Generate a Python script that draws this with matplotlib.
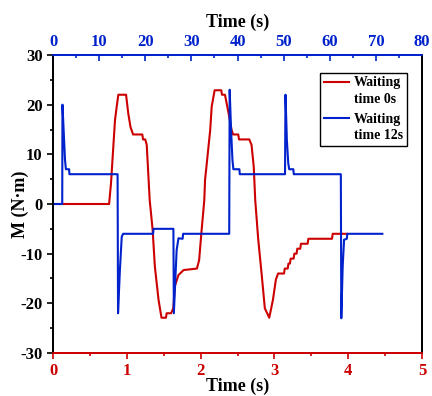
import matplotlib
matplotlib.use("Agg")
import matplotlib.pyplot as plt
from matplotlib.ticker import MultipleLocator
from matplotlib.legend_handler import HandlerLine2D

plt.rcParams['font.family'] = ['Liberation Serif', 'DejaVu Serif']
plt.rcParams['font.weight'] = 'bold'
plt.rcParams['axes.unicode_minus'] = False

RED = '#CC0000'
BLUE = '#0022CC'

# Waiting time 0s (bottom axis, seconds)
red_t = [0, 0.76, 0.786, 0.817, 0.84, 0.863, 0.885, 0.99, 1.02, 1.05, 1.085, 1.21, 1.22, 1.25, 1.27,
         1.31, 1.35, 1.38, 1.43, 1.46, 1.47, 1.53, 1.54, 1.60, 1.63, 1.65, 1.70, 1.77, 1.95, 1.98,
         2.01, 2.05, 2.06, 2.13, 2.15, 2.19, 2.28, 2.29, 2.33, 2.38, 2.42, 2.44, 2.51, 2.52, 2.66,
         2.69, 2.72, 2.74, 2.78, 2.83, 2.87, 2.93, 2.98, 3.02, 3.05, 3.13, 3.14, 3.18, 3.19, 3.21,
         3.22, 3.26, 3.27, 3.30, 3.31, 3.35, 3.36, 3.45, 3.46, 3.78, 3.79, 3.98]
red_m = [0, 0, 4.2, 11.5, 16.9, 19.6, 22, 22, 18.2, 15.5, 14, 14, 13, 13, 11.9,
         0.8, -5.2, -12.6, -19.3, -22, -22.9, -22.9, -22, -22, -21, -16.6, -14.3, -13.3, -13, -11.3,
         -5.9, 0.8, 4.8, 14.9, 19.6, 22.9, 22.9, 22, 22, 18.2, 14.9, 14, 14, 13, 13,
         11.9, 7.5, 0.8, -7, -14.6, -21, -22.9, -19.3, -15.2, -14, -14, -13, -13, -12, -12,
         -11, -11, -10, -10, -9, -9, -8, -8, -7, -7, -6, -6]

# Waiting time 12s (top axis, seconds)
blue_t = [0, 2.0, 2.05, 2.2, 2.4, 2.6, 2.8, 3.5, 3.55, 14.0, 14.1, 14.5, 14.9, 15.2, 21.7, 21.8,
          26.1, 26.2, 26.8, 27.2, 28.1, 28.2, 38.2, 38.3, 38.6, 38.9, 39.1, 40.4, 40.5, 50.3,
          50.4, 50.7, 51.0, 51.2, 52.1, 52.2, 62.4, 62.5, 62.8, 63.1, 63.7, 63.8, 71.4]
blue_m = [0, 0, 20, 17, 12.9, 8.9, 7, 7, 6, 6, -22, -13.3, -6.6, -6, -6, -5,
          -5, -22, -9.3, -6.9, -7, -6, -6, 23, 14.9, 8.9, 7, 7, 6, 6,
          22, 12.9, 8.2, 7, 7, 6, 6, -23, -12.6, -7.2, -7, -6, -6]

legend_labels = ['Waiting\ntime 0s', 'Waiting\ntime 12s']

LINESPACING = 1.35


class TopLineHandler(HandlerLine2D):
    def create_artists(self, legend, orig_handle, xdescent, ydescent,
                       width, height, fontsize, trans):
        artists = super().create_artists(legend, orig_handle, xdescent, ydescent,
                                         width, height, fontsize, trans)
        for a in artists:
            try:
                yd = a.get_ydata()
                a.set_ydata([y + 0.5 * LINESPACING * fontsize for y in yd])
            except AttributeError:
                pass
        return artists


fig = plt.figure(figsize=(4.32, 3.96), dpi=100)
ax = fig.add_axes([0.1227, 0.1086, 0.8542, 0.7525])
ax2 = ax.twiny()

l1, = ax.plot(red_t, red_m, color=RED, lw=1.5)
l2, = ax2.plot(blue_t, blue_m, color=BLUE, lw=1.5)

ax.set_xlim(0, 5)
ax.set_ylim(-30, 30)
ax2.set_xlim(0, 80)

ax.xaxis.set_major_locator(MultipleLocator(1))
ax.xaxis.set_minor_locator(MultipleLocator(0.5))
ax.yaxis.set_major_locator(MultipleLocator(10))
ax.yaxis.set_minor_locator(MultipleLocator(5))
ax2.xaxis.set_major_locator(MultipleLocator(10))
ax2.xaxis.set_minor_locator(MultipleLocator(5))

ax.tick_params(axis='x', which='both', direction='out', colors=RED, labelsize=12, width=1.2)
ax.tick_params(axis='x', which='major', length=4)
ax.tick_params(axis='x', which='minor', length=2.5)
ax.tick_params(axis='y', which='both', direction='out', colors='black', labelsize=12, width=1.2)
ax.tick_params(axis='y', which='major', length=4)
ax.tick_params(axis='y', which='minor', length=2.5)
ax2.tick_params(axis='x', which='both', direction='in', colors=BLUE, labelsize=12, width=1.2)
ax2.tick_params(axis='x', which='major', length=4)
ax2.tick_params(axis='x', which='minor', length=2.5)

for a in (ax, ax2):
    for s in a.spines.values():
        s.set_linewidth(1.3)
    a.spines['left'].set_color('black')
    a.spines['right'].set_color('black')
ax.spines['bottom'].set_color(RED)
ax2.spines['bottom'].set_color(RED)
ax.spines['top'].set_color(BLUE)
ax2.spines['top'].set_color(BLUE)

for lab in ax.get_xticklabels() + ax.get_yticklabels() + ax2.get_xticklabels():
    lab.set_fontweight('bold')

ax.set_xlabel('Time (s)', fontsize=13, fontweight='bold', color='black', labelpad=-1)
ax2.set_xlabel('Time (s)', fontsize=13, fontweight='bold', color='black', labelpad=5)
ax.set_ylabel('M (N·m)', fontsize=13, fontweight='bold')
ax.yaxis.set_label_coords(-0.064, 0.5)

leg = ax.legend([l1, l2], legend_labels,
                loc='upper right', bbox_to_anchor=(0.959, 0.94), borderaxespad=0,
                prop={'weight': 'bold', 'size': 10}, fancybox=False, framealpha=1,
                edgecolor='black', handlelength=1.85, handletextpad=0.35,
                borderpad=0.25, labelspacing=0.5,
                handler_map={l1: TopLineHandler(), l2: TopLineHandler()})
leg.get_frame().set_linewidth(1.0)
for t in leg.get_texts():
    t.set_linespacing(LINESPACING)

fig.savefig('out.png', dpi=100)
